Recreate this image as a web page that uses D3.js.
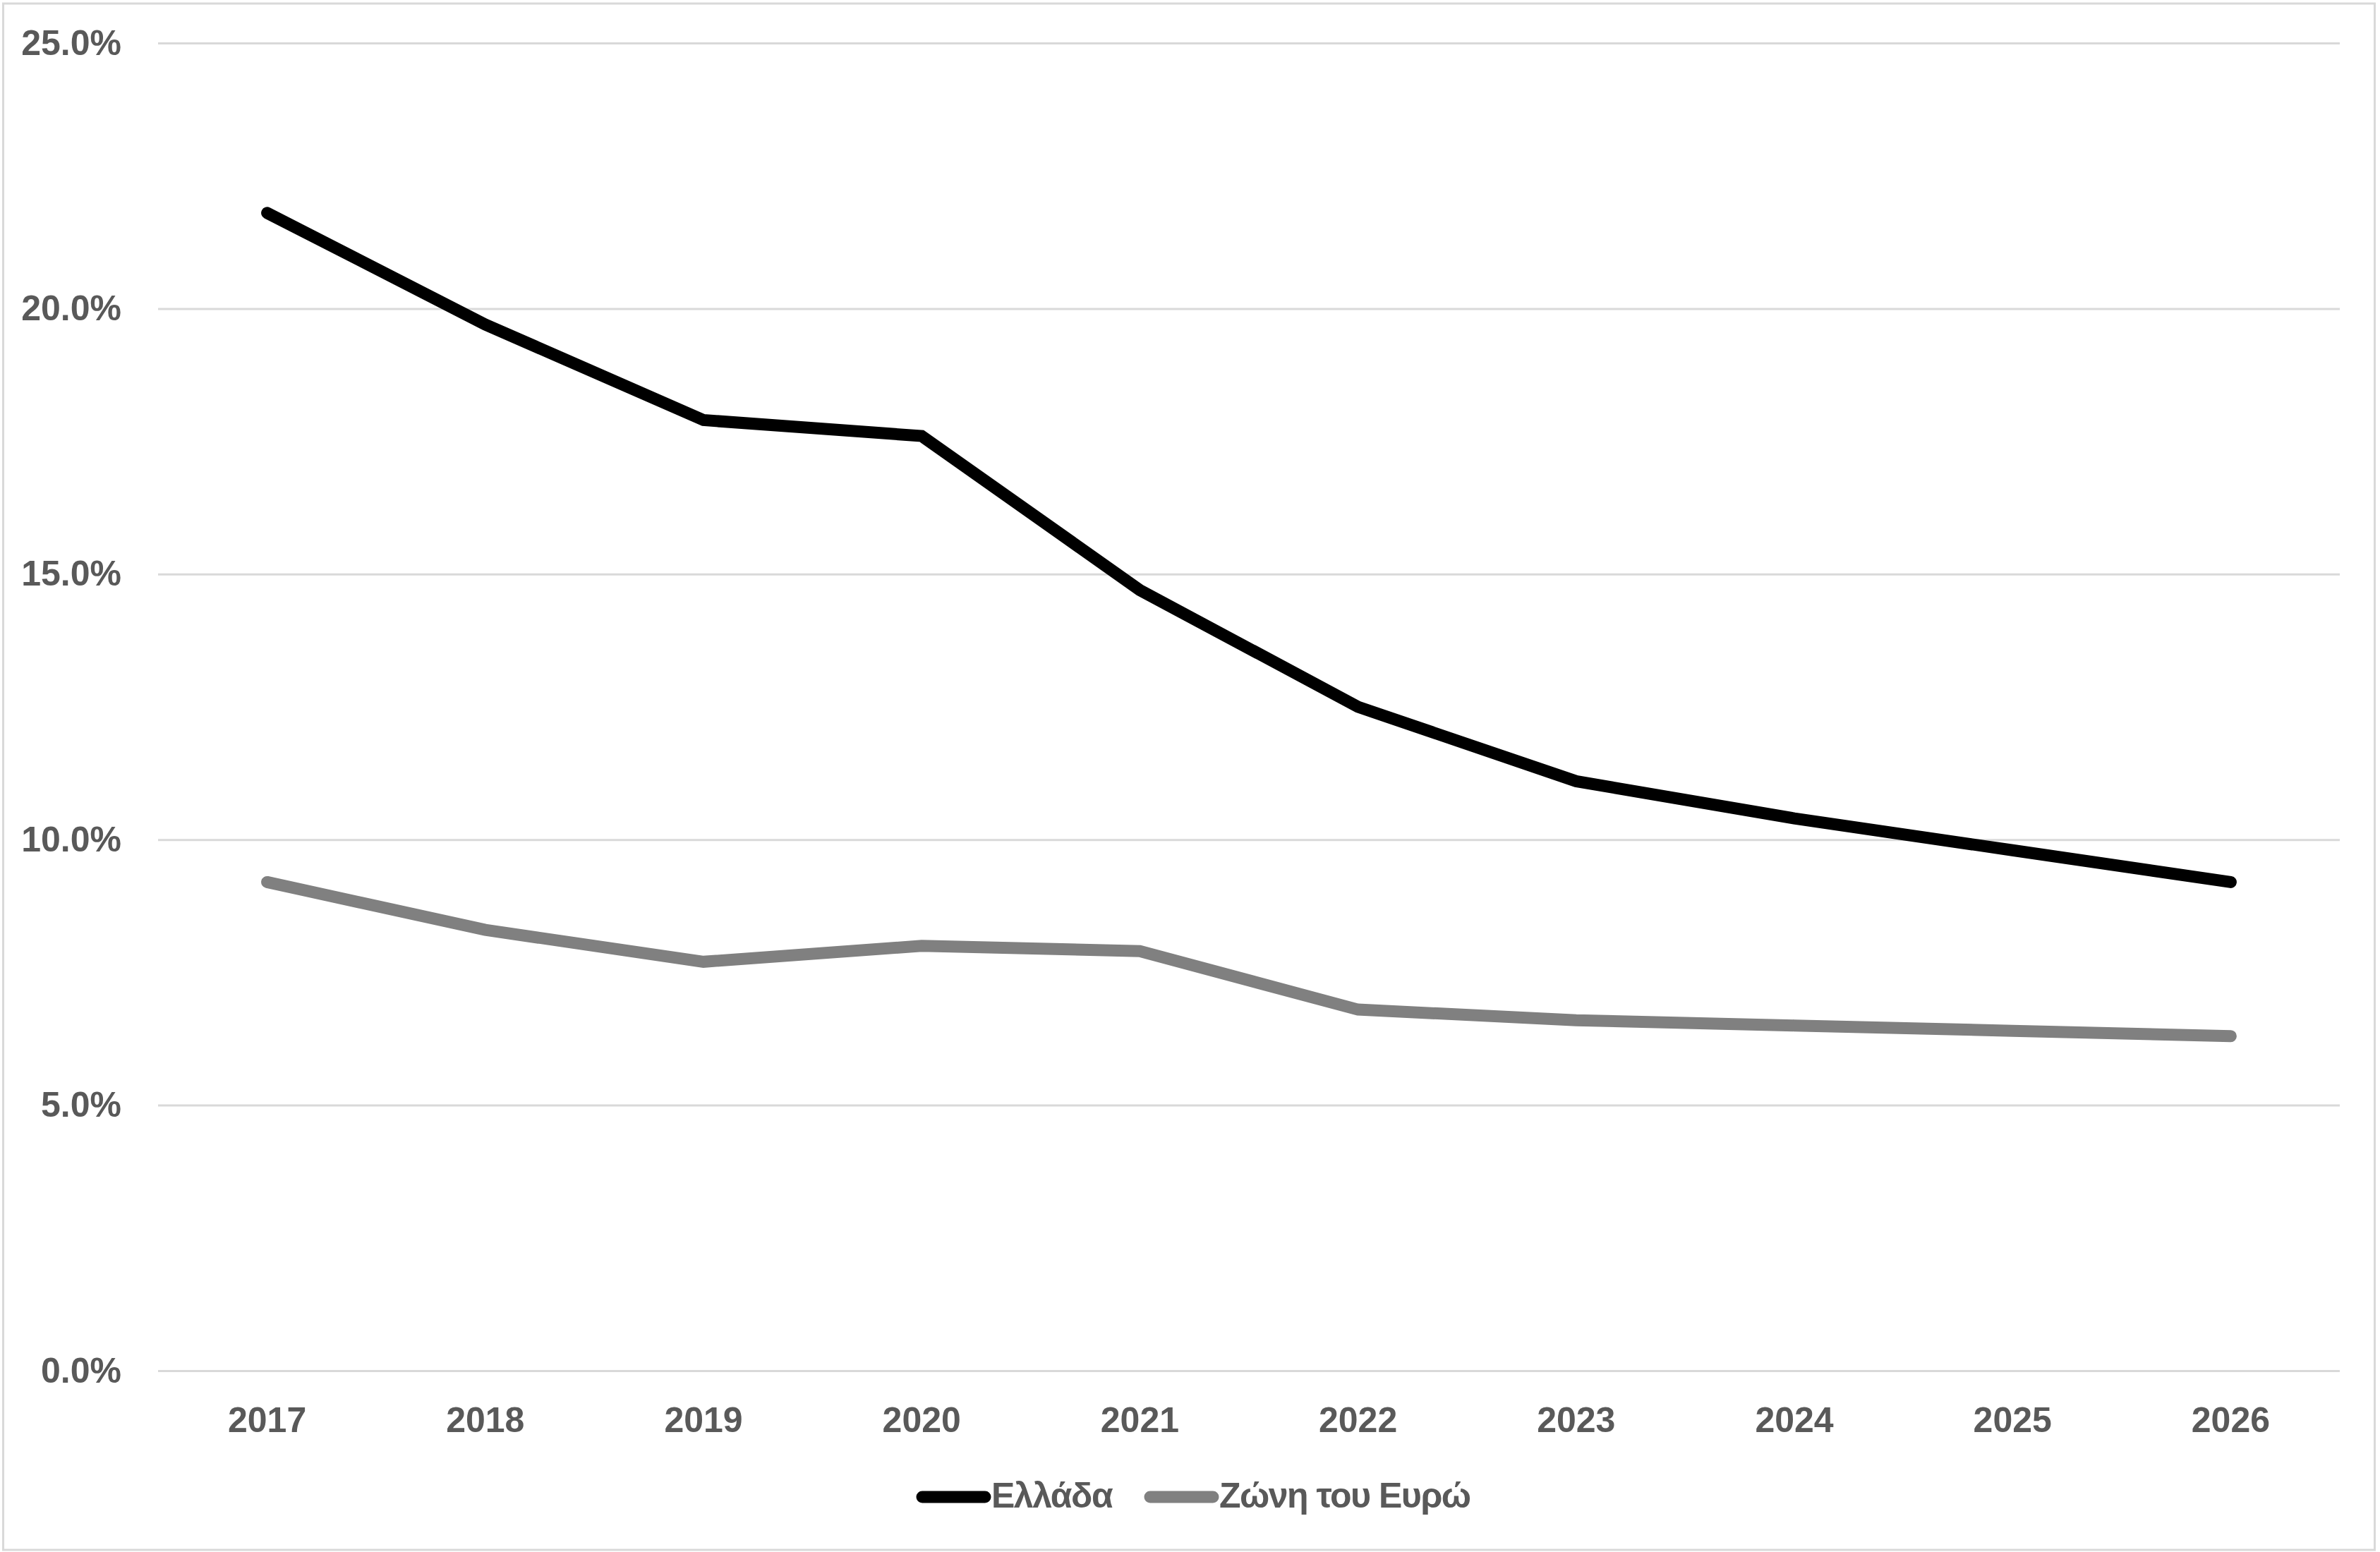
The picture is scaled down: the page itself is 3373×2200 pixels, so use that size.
<!DOCTYPE html>
<html lang="el">
<head>
  <meta charset="UTF-8">
  <title>Ελλάδα - Ζώνη του Ευρώ</title>
  <script src="https://d3js.org/d3.v7.min.js"></script>
  <style>
    html, body {
      margin: 0;
      padding: 0;
      background: #fff;
    }
    svg {
      display: block;
      font-family: "Liberation Sans", Arial, sans-serif;
      font-weight: bold;
    }
    .grid line {
      stroke: #d9d9d9;
      stroke-width: 3;
    }
    .label {
      fill: #595959;
      font-size: 50px;
    }
    .legend-text {
      letter-spacing: -1.5px;
    }
  </style>
</head>
<body>
  <div id="chart"></div>

  <script>
    const years = ["2017", "2018", "2019", "2020", "2021", "2022", "2023", "2024", "2025", "2026"];
    const greece = [21.8, 19.7, 17.9, 17.6, 14.7, 12.5, 11.1, 10.4, 9.8, 9.2];
    const euroArea = [9.2, 8.3, 7.7, 8.0, 7.9, 6.8, 6.6, 6.5, 6.4, 6.3];
    const yTicks = [0, 5, 10, 15, 20, 25];
    const seriesNames = ["Ελλάδα", "Ζώνη του Ευρώ"];
    const seriesColors = ["#000000", "#808080"];

    const w = 3373;
    const h = 2200;
    const plotLeft = 224, plotRight = 3316, plotTop = 61, plotBottom = 1943;

    const svg = d3.select("#chart")
                  .append("svg")
                  .attr("width", w)
                  .attr("height", h);

    // chart border
    svg.append("rect")
       .attr("x", 4.5)
       .attr("y", 5)
       .attr("width", 3361)
       .attr("height", 2192)
       .attr("fill", "#fff")
       .attr("stroke", "#d9d9d9")
       .attr("stroke-width", 3);

    const xScale = d3.scaleBand()
                     .domain(years)
                     .range([plotLeft, plotRight]);

    const yScale = d3.scaleLinear()
                     .domain([0, 25])
                     .range([plotBottom, plotTop]);

    // gridlines + y labels
    const yAxis = svg.append("g")
       .attr("class", "grid")
       .attr("transform", `translate(${plotLeft}, 0)`)
       .call(d3.axisLeft(yScale)
               .tickValues(yTicks)
               .tickSize(-(plotRight - plotLeft))
               .tickPadding(52)
               .tickFormat(d => d.toFixed(1) + "%"));
    yAxis.select(".domain").remove();
    yAxis.selectAll("text")
         .attr("class", "label")
         .attr("dy", "0.32em");

    // x labels
    const xAxis = svg.append("g")
       .attr("transform", `translate(0, ${plotBottom})`)
       .call(d3.axisBottom(xScale).tickSize(0).tickPadding(0));
    xAxis.select(".domain").remove();
    xAxis.selectAll("text")
         .attr("class", "label")
         .attr("dy", null)
         .attr("y", 87);

    const line = d3.line()
                   .x((d, i) => xScale(years[i]) + xScale.bandwidth() / 2)
                   .y(d => yScale(d));

    const series = [euroArea, greece];
    const colors = [seriesColors[1], seriesColors[0]];
    series.forEach((s, k) => {
      svg.append("path")
         .datum(s)
         .attr("fill", "none")
         .attr("stroke", colors[k])
         .attr("stroke-width", 17)
         .attr("stroke-linecap", "round")
         .attr("stroke-linejoin", "miter")
         .attr("d", line);
    });

    // legend
    const legend = svg.append("g").attr("transform", "translate(0, 2122)");
    const legendItems = [
      { name: seriesNames[0], color: seriesColors[0], x: 1299 },
      { name: seriesNames[1], color: seriesColors[1], x: 1622 }
    ];
    legendItems.forEach(d => {
      legend.append("line")
            .attr("x1", d.x + 8)
            .attr("x2", d.x + 97)
            .attr("y1", 0)
            .attr("y2", 0)
            .attr("stroke", d.color)
            .attr("stroke-width", 17)
            .attr("stroke-linecap", "round");
      legend.append("text")
            .attr("class", "label legend-text")
            .attr("x", d.x + 106)
            .attr("y", 15)
            .text(d.name);
    });
  </script>
</body>
</html>
